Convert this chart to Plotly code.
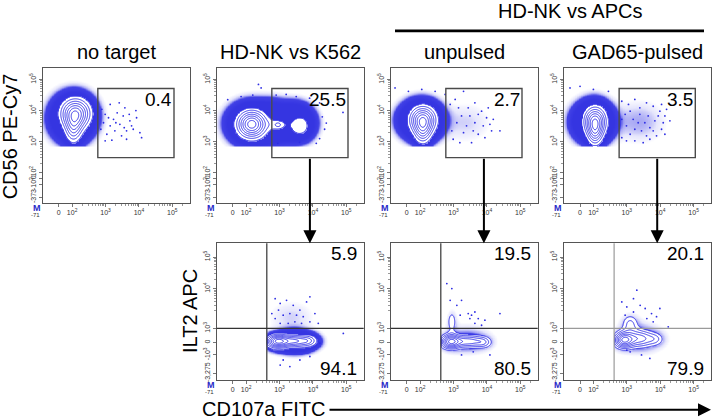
import numpy as np
import plotly.graph_objects as go

# ------------------------------------------------------------------
# DATA  (positions in display units of the FlowJo biexponential axes:
#        10^k sits at k)
# ------------------------------------------------------------------
top_titles = ["no target", "HD-NK vs K562", "unpulsed", "GAD65-pulsed"]
group_title = "HD-NK vs APCs"
gate_percent = ["0.4", "25.5", "2.7", "3.5"]
quad_upper_percent = ["5.9", "19.5", "20.1"]
quad_lower_percent = ["94.1", "80.5", "79.9"]
y_label_top = "CD56 PE-Cy7"
y_label_bottom = "ILT2 APC"
x_label = "CD107a FITC"

gate_x_range = [2.77, 5.05]
gate_y_range = [2.49, 4.71]
quad_x_cut = 2.62
quad_y_cut = 2.74
cd56_floor = 2.88      # lower edge of the CD56+ pre-gate (top row)
cd107a_floor = 2.64    # left edge of the CD107a+ gate (bottom row)

x_tick_vals = [1.6, 2, 3, 4, 5]
x_tick_text = ["0", "10<sup>2</sup>", "10<sup>3</sup>", "10<sup>4</sup>", "10<sup>5</sup>"]
x_min_label = "-71"
top_y_tick_vals = [1.22, 1.62, 1.82, 2.02, 3, 4, 5]
top_y_tick_text = ["-373", "-10<sup>2</sup>", "0", "10<sup>2</sup>", "10<sup>3</sup>", "10<sup>4</sup>", "10<sup>5</sup>"]
bottom_y_tick_vals = [1.32, 1.9, 2.29, 2.74, 4, 5]
bottom_y_tick_text = ["-3,275", "-10<sup>3</sup>", "0", "10<sup>3</sup>", "10<sup>4</sup>", "10<sup>5</sup>"]

# core populations (drawn as contours): (x centre, y centre, x spread, y spread, weight)
no_target_core = [(2.10, 3.90, 0.30, 0.33, 1.0), (2.04, 3.35, 0.17, 0.30, 0.45)]
k562_core = [(2.17, 3.56, 0.30, 0.30, 1.0), (2.95, 3.55, 0.20, 0.14, 0.22),
             (2.97, 3.54, 0.08, 0.08, 0.10), (3.60, 3.52, 0.25, 0.28, 0.30)]
unpulsed_core = [(2.08, 3.70, 0.27, 0.30, 1.0), (2.08, 3.25, 0.17, 0.25, 0.40)]
gad65_core = [(2.05, 3.65, 0.23, 0.32, 1.0), (2.05, 3.20, 0.15, 0.25, 0.40)]
k562_ilt2_core = [(2.92, 2.33, 0.22, 0.15, 1.0), (3.45, 2.34, 0.30, 0.14, 0.8),
                  (3.90, 2.35, 0.18, 0.13, 0.35)]
unpulsed_ilt2_core = [(2.90, 2.32, 0.20, 0.16, 1.0), (3.45, 2.33, 0.32, 0.15, 0.75),
                      (3.92, 2.30, 0.17, 0.13, 0.35), (2.95, 2.95, 0.10, 0.25, 0.35)]
gad65_ilt2_core = [(2.90, 2.37, 0.20, 0.18, 1.0), (3.40, 2.42, 0.28, 0.20, 0.7),
                   (3.88, 2.40, 0.18, 0.15, 0.30), (3.10, 2.90, 0.18, 0.20, 0.40)]

# clouds of outlying events (drawn as dot shading)
no_target_cloud = [(1.99, 3.75, 0.34, 0.39, 1.0)]
k562_cloud = [(2.15, 3.60, 0.37, 0.34, 1.0), (2.80, 3.62, 0.30, 0.33, 1.0),
              (3.45, 3.65, 0.29, 0.30, 1.0)]
unpulsed_cloud = [(2.00, 3.70, 0.34, 0.32, 1.0), (3.35, 3.62, 0.50, 0.42, 0.03)]
gad65_cloud = [(1.97, 3.65, 0.325, 0.34, 1.0), (3.35, 3.65, 0.50, 0.42, 0.045)]
k562_ilt2_cloud = [(3.45, 2.33, 0.32, 0.18, 1.0), (3.35, 3.10, 0.45, 0.35, 0.03)]
unpulsed_ilt2_cloud = [(3.40, 2.40, 0.45, 0.30, 0.05)]
gad65_ilt2_cloud = [(3.40, 2.45, 0.45, 0.32, 0.05)]
# share of each core population that spills outside the outer contour as dots
core_spill = [1.0, 1.0, 1.0, 1.0, 0.6, 0.15, 0.15]

# scattered single events
no_target_dots = [(2.89, 4.04), (2.99, 3.88), (3.14, 4.20), (3.24, 3.72), (3.35, 3.93), (3.43, 3.56),
                  (3.53, 3.83), (3.58, 4.09), (3.63, 3.35), (3.73, 3.67), (3.78, 3.51), (3.93, 3.77),
                  (4.03, 3.29), (4.08, 3.13), (3.48, 3.19), (3.28, 3.35), (3.14, 3.51), (3.04, 3.24),
                  (3.63, 3.08), (3.19, 3.05), (3.83, 3.40), (3.41, 4.25), (2.94, 3.61), (2.86, 3.40),
                  (3.09, 3.77), (2.99, 3.03), (3.91, 4.00), (3.71, 3.88), (3.31, 3.61), (3.56, 3.45)]
k562_dots = [(2.37, 4.84), (2.45, 4.73), (1.45, 4.35), (1.85, 4.45), (2.20, 4.50), (2.90, 4.50),
             (3.20, 4.52), (3.50, 4.45), (3.90, 4.40), (4.20, 4.25), (4.28, 3.80), (4.35, 3.40),
             (4.20, 3.10), (4.10, 2.95), (2.95, 2.95), (3.60, 2.98), (4.90, 3.94), (4.40, 3.60)]
unpulsed_dots = [(2.90, 4.20), (3.05, 4.36), (3.30, 4.62), (3.44, 4.09), (3.64, 4.25), (3.84, 3.98),
                 (3.99, 3.77), (4.09, 3.56), (4.14, 3.35), (3.94, 3.13), (3.74, 3.24), (3.54, 2.97),
                 (3.19, 2.97), (2.99, 3.08), (3.39, 3.51), (3.64, 3.61), (3.89, 3.51), (3.24, 3.83),
                 (3.10, 3.61), (3.49, 3.83), (3.74, 3.88), (4.04, 4.09), (4.39, 3.35), (3.30, 3.29),
                 (3.59, 3.35), (2.95, 3.35), (3.15, 4.09), (4.19, 3.72), (1.25, 4.73), (1.65, 4.62),
                 (2.05, 4.68), (2.45, 4.62), (2.75, 4.52)]
gad65_dots = [(2.85, 4.30), (3.05, 4.20), (3.24, 4.36), (3.39, 4.09), (3.59, 4.25), (3.79, 4.14),
              (3.99, 3.98), (4.14, 3.83), (4.09, 3.61), (4.04, 3.40), (3.89, 3.19), (3.69, 3.08),
              (3.49, 2.97), (3.24, 3.03), (2.99, 3.03), (2.85, 3.13), (2.99, 3.51), (3.19, 3.72),
              (3.39, 3.88), (3.64, 3.83), (3.84, 3.67), (3.94, 3.83), (3.69, 3.45), (3.44, 3.35),
              (3.24, 3.40), (3.10, 3.24), (3.54, 3.61), (3.34, 3.61), (3.79, 3.35), (4.19, 4.04),
              (4.14, 3.24), (2.95, 3.88), (3.10, 3.98), (2.85, 3.72), (3.59, 3.19), (4.04, 4.20),
              (4.29, 3.67), (1.30, 4.73), (1.60, 4.78), (2.00, 4.68), (2.45, 4.62)]
k562_ilt2_dots = [(2.87, 3.68), (3.02, 3.53), (3.21, 3.63), (3.41, 3.47), (3.61, 3.32), (3.81, 3.58),
                  (3.91, 3.74), (3.71, 3.11), (3.51, 3.16), (3.31, 3.21), (3.11, 3.16), (2.97, 3.32),
                  (2.87, 3.05), (4.06, 3.21), (4.16, 2.90), (3.91, 2.95), (3.46, 2.95), (3.66, 2.90),
                  (3.26, 2.90), (3.02, 1.58), (3.31, 1.53), (3.61, 1.74), (3.91, 1.85), (3.11, 1.74),
                  (4.91, 2.58), (4.21, 2.27), (2.77, 3.21), (3.02, 2.90)]
unpulsed_ilt2_dots = [(2.80, 4.16), (2.95, 4.00), (2.90, 3.63), (3.24, 3.63), (3.10, 3.47), (3.44, 3.21),
                      (3.54, 3.16), (3.64, 3.26), (3.74, 3.05), (3.94, 3.00), (3.64, 2.90), (4.39, 3.21),
                      (3.84, 2.84), (3.24, 1.90), (3.59, 2.00), (4.09, 1.90), (3.20, 3.16), (3.49, 3.05)]
gad65_ilt2_dots = [(2.85, 3.58), (3.00, 3.42), (3.20, 3.68), (3.40, 3.47), (3.55, 3.37), (3.74, 3.21),
                   (3.89, 3.11), (3.99, 3.37), (3.79, 2.95), (3.60, 3.05), (4.24, 2.79), (3.30, 3.95),
                   (3.44, 1.90), (3.10, 2.00), (3.69, 1.79), (3.00, 2.05), (3.20, 3.26), (2.95, 3.16)]

# ------------------------------------------------------------------
# LAYOUT CONSTANTS
# ------------------------------------------------------------------
W, H = 716, 420
col_px = [(42.7, 189.7), (216.7, 363.7), (390.7, 537.7), (564.0, 711.0)]
top_row_px = (68.3, 204.0)
bottom_row_px = (244.3, 381.7)
x_range = [1.12, 5.52]
top_y_range = [1.03, 5.37]
bottom_y_range = [1.11, 5.44]

FONT = "Liberation Sans, Arial, sans-serif"
DOT = "rgb(45,45,228)"
LINE_BLUE = "rgb(55,55,232)"
FRAME = "#555555"


def pxx(x):
    return x / W


def pxy(y):
    return 1 - y / H


panels = []
for c, (core, cloud, dots) in enumerate(zip(
        [no_target_core, k562_core, unpulsed_core, gad65_core],
        [no_target_cloud, k562_cloud, unpulsed_cloud, gad65_cloud],
        [no_target_dots, k562_dots, unpulsed_dots, gad65_dots])):
    panels.append(dict(col=c, row=0, core=core, cloud=cloud, dots=dots))
for c, (core, cloud, dots) in enumerate(zip(
        [k562_ilt2_core, unpulsed_ilt2_core, gad65_ilt2_core],
        [k562_ilt2_cloud, unpulsed_ilt2_cloud, gad65_ilt2_cloud],
        [k562_ilt2_dots, unpulsed_ilt2_dots, gad65_ilt2_dots])):
    panels.append(dict(col=c + 1, row=1, core=core, cloud=cloud, dots=dots))

OUTER = 0.2      # outermost contour level (fraction of peak)
HAZE = 0.01      # faintest shaded density of the outlier cloud
ring_levels = dict(start=0.2, end=0.93, size=0.12)

shade_scale = [[0.0, "rgba(50,50,230,0)"], [0.3, "rgba(50,50,230,0.12)"],
               [0.5, "rgba(40,40,228,0.4)"], [0.62, "rgba(32,32,225,0.85)"],
               [0.995, "rgba(30,30,222,0.9)"], [0.996, "white"], [1.0, "white"]]


def field(comps, X, Y):
    z = np.zeros_like(X)
    for mx, my, sx, sy, w in comps:
        z += w * np.exp(-0.5 * (((X - mx) / sx) ** 2 + ((Y - my) / sy) ** 2))
    return z


fig = go.Figure()
layout_axes = {}
shapes = []
annotations = []

for i, p in enumerate(panels):
    n = i + 1
    xa = "x" if n == 1 else f"x{n}"
    ya = "y" if n == 1 else f"y{n}"
    top = p["row"] == 0
    x0px, x1px = col_px[p["col"]]
    y0px, y1px = top_row_px if top else bottom_row_px

    if top:
        xs = np.arange(1.12, 5.0, 0.02)
        ys = np.arange(2.6, 5.3, 0.02)
    else:
        xs = np.arange(2.4, 5.2, 0.02)
        ys = np.arange(1.2, 4.5, 0.02)
    X, Y = np.meshgrid(xs, ys)
    core = field(p["core"], X, Y)
    cloud = field(p["cloud"], X, Y)
    mask = (Y < cd56_floor) if top else (X < cd107a_floor)
    core[mask] = 0
    cloud[mask] = 0
    core = core / core.max()
    h = core * core_spill[i] + cloud
    t = (np.log10(np.maximum(h, 1e-9)) - np.log10(HAZE)) / (np.log10(OUTER) - np.log10(HAZE))
    t = np.clip(t, 0, 0.99)
    t[core >= OUTER] = 1.0
    t = t.astype(np.float32)

    fig.add_trace(go.Heatmap(x=xs.astype(np.float32), y=ys.astype(np.float32), z=t,
                             zmin=0, zmax=1, colorscale=shade_scale, showscale=False,
                             zsmooth="best", hoverinfo="skip", xaxis=xa, yaxis=ya))
    fig.add_trace(go.Contour(x=xs.astype(np.float32), y=ys.astype(np.float32),
                             z=core.astype(np.float32),
                             contours=dict(coloring="lines", showlabels=False, **ring_levels),
                             autocontour=False,
                             colorscale=[[0, LINE_BLUE], [1, LINE_BLUE]], showscale=False,
                             line=dict(width=1, smoothing=1), hoverinfo="skip",
                             xaxis=xa, yaxis=ya))
    fig.add_trace(go.Scatter(x=[d[0] for d in p["dots"]], y=[d[1] for d in p["dots"]],
                             mode="markers", marker=dict(size=1.8, color=DOT),
                             hoverinfo="skip", showlegend=False, xaxis=xa, yaxis=ya))

    xkey = "xaxis" if n == 1 else f"xaxis{n}"
    ykey = "yaxis" if n == 1 else f"yaxis{n}"
    minor_x = [d + np.log10(k) for d in (2, 3, 4) for k in range(2, 10)] + [5.3]
    layout_axes[xkey] = dict(domain=[pxx(x0px), pxx(x1px)], range=x_range, anchor=ya,
                             showline=True, mirror=True, linecolor=FRAME, linewidth=1,
                             ticks="outside", ticklen=3, tickcolor="#777", tickwidth=1,
                             tickvals=x_tick_vals, ticktext=x_tick_text,
                             tickfont=dict(size=7, color="#333", family=FONT),
                             minor=dict(tickvals=minor_x, ticks="outside", ticklen=2,
                                        tickcolor="#999"),
                             showgrid=False, zeroline=False, fixedrange=True)
    if top:
        yv, yt, yr = top_y_tick_vals, top_y_tick_text, top_y_range
        minor_y = [d + np.log10(k) for d in (2, 3, 4) for k in range(2, 10)]
    else:
        yv, yt, yr = bottom_y_tick_vals, bottom_y_tick_text, bottom_y_range
        minor_y = [d + np.log10(k) for d in (3, 4) for k in range(2, 10)]
    layout_axes[ykey] = dict(domain=[pxy(y1px), pxy(y0px)], range=yr, anchor=xa,
                             showline=True, mirror=True, linecolor=FRAME, linewidth=1,
                             ticks="outside", ticklen=3, tickcolor="#777", tickwidth=1,
                             tickvals=yv, ticktext=yt, tickangle=-90,
                             tickfont=dict(size=7, color="#333", family=FONT),
                             minor=dict(tickvals=minor_y, ticks="outside", ticklen=2,
                                        tickcolor="#999"),
                             showgrid=False, zeroline=False, fixedrange=True)

    # FlowJo "M" marker and axis minimum label
    annotations.append(dict(xref=f"{xa} domain", yref=f"{ya} domain", x=-0.039, y=-0.04,
                            text="<b>M</b>", showarrow=False, xanchor="center", yanchor="middle",
                            font=dict(size=9, color="rgb(40,40,200)", family=FONT)))
    annotations.append(dict(xref=f"{xa} domain", yref=f"{ya} domain", x=-0.048, y=-0.09,
                            text=x_min_label, showarrow=False, xanchor="center", yanchor="middle",
                            font=dict(size=6, color="#333", family=FONT)))

    if top:
        c = p["col"]
        shapes.append(dict(type="rect", xref=xa, yref=ya, x0=gate_x_range[0], x1=gate_x_range[1],
                           y0=gate_y_range[0], y1=gate_y_range[1],
                           line=dict(color="#4a4a4a", width=1.4), layer="above"))
        annotations.append(dict(xref=xa, yref=ya, x=gate_x_range[1], y=4.36, text=gate_percent[c],
                                showarrow=False, xanchor="right", yanchor="middle",
                                font=dict(size=19, color="black", family=FONT)))
        annotations.append(dict(xref=f"{xa} domain", yref="paper",
                                x=0.5, y=pxy(52), text=top_titles[c], showarrow=False,
                                xanchor="center", yanchor="middle",
                                font=dict(size=20, color="black", family=FONT)))
    else:
        b = p["col"] - 1
        qcol = "#9a9a9a" if b == 2 else "#333333"
        shapes.append(dict(type="line", xref=xa, yref=f"{ya} domain", x0=quad_x_cut, x1=quad_x_cut,
                           y0=0, y1=1, line=dict(color=qcol, width=1.2), layer="above"))
        shapes.append(dict(type="line", xref=f"{xa} domain", yref=ya, x0=0, x1=1,
                           y0=quad_y_cut, y1=quad_y_cut, line=dict(color=qcol, width=1.2),
                           layer="above"))
        annotations.append(dict(xref=f"{xa} domain", yref=ya, x=0.966, y=5.10,
                                text=quad_upper_percent[b], showarrow=False, xanchor="right",
                                yanchor="middle", font=dict(size=19, color="black", family=FONT)))
        annotations.append(dict(xref=f"{xa} domain", yref=ya, x=0.966, y=1.47,
                                text=quad_lower_percent[b], showarrow=False, xanchor="right",
                                yanchor="middle", font=dict(size=19, color="black", family=FONT)))
        gate_bottom_px = top_row_px[0] + (top_y_range[1] - gate_y_range[0]) / (
            top_y_range[1] - top_y_range[0]) * (top_row_px[1] - top_row_px[0])
        annotations.append(dict(xref=xa, yref="paper", x=sum(gate_x_range) / 2, y=pxy(y0px),
                                ax=0, ay=-(y0px - gate_bottom_px), text="", showarrow=True,
                                arrowhead=2, arrowsize=1.3, arrowwidth=2, arrowcolor="black",
                                standoff=0))

# group header and axis titles
annotations.append(dict(xref="paper", yref="paper", x=pxx(570), y=pxy(11.5), text=group_title,
                        showarrow=False, xanchor="center", yanchor="middle",
                        font=dict(size=20, color="black", family=FONT)))
shapes.append(dict(type="line", xref="paper", yref="paper", x0=pxx(395), x1=pxx(704),
                   y0=pxy(31), y1=pxy(31), line=dict(color="black", width=2.6)))
annotations.append(dict(xref="paper", yref="paper", x=pxx(10), y=pxy(137), text=y_label_top,
                        textangle=-90, showarrow=False, xanchor="center", yanchor="middle",
                        font=dict(size=20, color="black", family=FONT)))
annotations.append(dict(xref="paper", yref="paper", x=pxx(189.5), y=pxy(313), text=y_label_bottom,
                        textangle=-90, showarrow=False, xanchor="center", yanchor="middle",
                        font=dict(size=20, color="black", family=FONT)))
annotations.append(dict(xref="paper", yref="paper", x=pxx(263.7), y=pxy(411), text=x_label,
                        showarrow=False, xanchor="center", yanchor="middle",
                        font=dict(size=20, color="black", family=FONT)))
annotations.append(dict(xref="paper", yref="paper", x=pxx(711), y=pxy(411.7), ax=-(711 - 328),
                        ay=0, text="", showarrow=True, arrowhead=2, arrowsize=1.3, arrowwidth=2,
                        arrowcolor="black", standoff=0))

fig.update_layout(width=W, height=H, margin=dict(l=0, r=0, t=0, b=0),
                  paper_bgcolor="white", plot_bgcolor="white", showlegend=False,
                  shapes=shapes, annotations=annotations, **layout_axes)
fig.write_html("out.html", config={"displayModeBar": False, "staticPlot": True},
               post_script="document.body.style.margin='0px';")
